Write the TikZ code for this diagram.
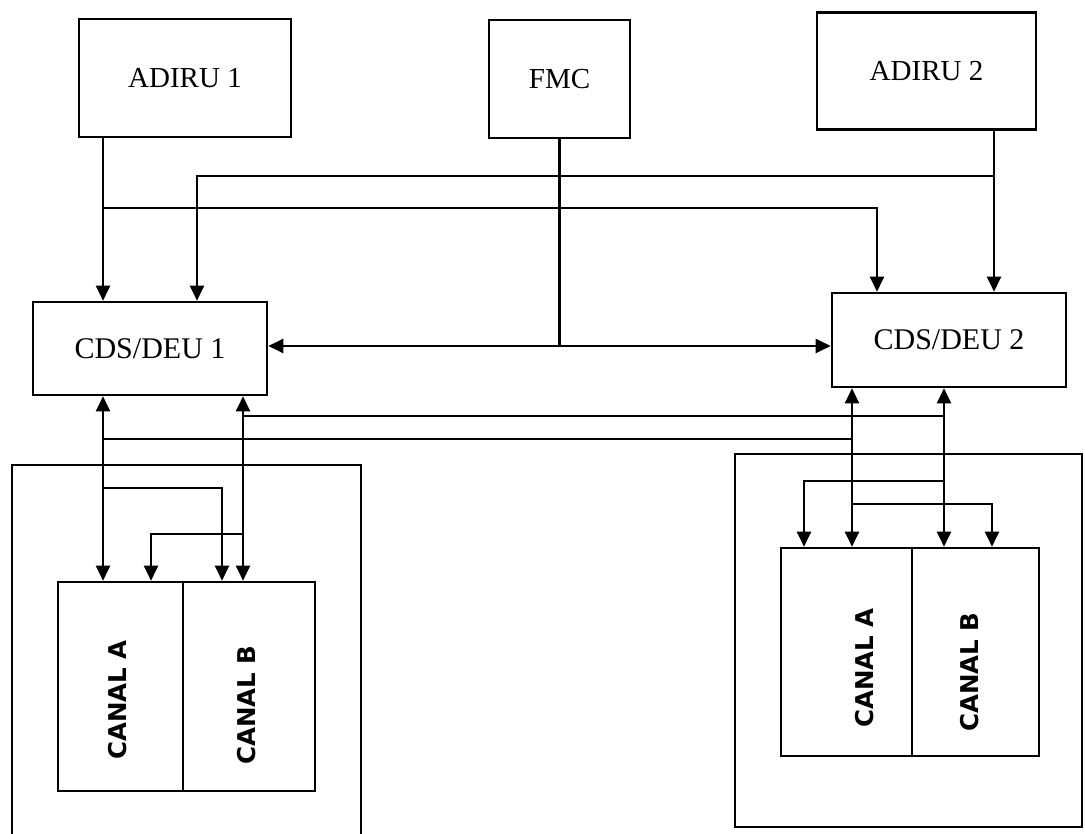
\documentclass[tikz,border=0pt]{standalone}
\usepackage{fontspec}
\setmainfont{Liberation Serif}
\newfontfamily\canalfont{DejaVu Sans}
\usetikzlibrary{arrows.meta, positioning, calc}
\tikzset{
	unitbox/.style={
			draw=black,
			line width=2.6pt,
			fill=white,
			inner sep=0pt,
			font=\fontsize{29}{29}\selectfont
		},
	cdsbox/.style={
			unitbox,
			minimum width=234pt,
			font=\fontsize{30}{30}\selectfont
		},
	canalbox/.style={
			draw=black,
			line width=2.6pt,
			inner sep=0pt,
			minimum height=209pt
		},
	canaltext/.style={
			rotate=90,
			inner sep=0pt,
			font=\canalfont\bfseries\fontsize{24.5}{24.5}\selectfont
		},
	panel/.style={
			draw=black,
			line width=2.6pt
		},
	wire/.style={
			line width=2.2pt
		},
	>={Triangle[length=15pt,width=14pt]}
}

\begin{document}
\begin{tikzpicture}[x=1pt, y=-1pt]
\useasboundingbox (0,0) rectangle (1085,834);

% sources
\node[unitbox, minimum width=212pt, minimum height=118pt] (adiru1) at (185,78) {ADIRU 1};
\node[unitbox, minimum width=141pt, minimum height=118pt] (fmc) at (559.5,79) {FMC};
\node[unitbox, minimum width=219pt, minimum height=117pt] (adiru2) at (926.5,71) {ADIRU 2};

% display units
\node[cdsbox, minimum height=93pt] (cds1) at (150,348.5) {CDS/DEU 1};
\node[cdsbox, minimum height=94pt] (cds2) at (949,340) {CDS/DEU 2};

% panels
\draw[panel] (12,834) -- (12,465) -- (361,465) -- (361,834);
\node[panel, inner sep=0pt, minimum width=347pt, minimum height=373pt] (p2) at (908.5,640.5) {};

% channels
\node[canalbox, minimum width=125pt] (ca1) at (120.5,686.5) {};
\node[canalbox, minimum width=132pt] (cb1) at (249,686.5) {};
\node[canalbox, minimum width=131pt, minimum height=208pt] (ca2) at (846.5,652) {};
\node[canalbox, minimum width=127pt, minimum height=208pt] (cb2) at (975.5,652) {};
\node[canaltext] (ta1) at (117.5,700) {CANAL A};
\node[canaltext] (tb1) at (247,705) {CANAL B};
\node[canaltext] (ta2) at (865,668) {CANAL A};
\node[canaltext] (tb2) at (970,672) {CANAL B};

% columns
\coordinate (la) at (103,0);
\coordinate (lb) at (243,0);
\coordinate (lc) at (197,0);
\coordinate (ra) at (852,0);
\coordinate (rb) at (944,0);
\coordinate (rc) at (877,0);
\coordinate (rd) at (994,0);

% ADIRU feeds
\draw[wire, ->] (adiru1.south -| la) -- (cds1.north -| la);
\draw[wire, ->] (adiru2.south -| rd) -- (cds2.north -| rd);
\coordinate (j1) at (103,208);
\coordinate (j2) at (994,176);
\draw[wire, ->] (j1) -| (cds2.north -| rc);
\draw[wire, ->] (j2) -| (cds1.north -| lc);

% FMC
\coordinate (fj) at (559.5,346);
\draw[wire] (fmc.south) -- (fj);
\draw[wire, <->] (cds1.east |- fj) -- (cds2.west |- fj);

% left side buses
\draw[wire, <->] (cds1.south -| la) -- (ca1.north -| la);
\draw[wire, <->] (cds1.south -| lb) -- (cb1.north -| lb);
\coordinate (jl1) at (103,439);
\coordinate (jl2) at (243,416);
\coordinate (jl3) at (103,488);
\coordinate (jl4) at (243,534);
\draw[wire, ->] (jl3) -| ($(cb1.north -| la)+(119,0)$);
\draw[wire, ->] (jl4) -| ($(ca1.north -| la)+(48,0)$);

% right side buses
\draw[wire, <->] (cds2.south -| ra) -- (ca2.north -| ra);
\draw[wire, <->] (cds2.south -| rb) -- (cb2.north -| rb);
\coordinate (jr1) at (944,481);
\coordinate (jr2) at (852,504);
\draw[wire, ->] (jr1) -| ($(ca2.north -| ra)+(-48,0)$);
\draw[wire, ->] (jr2) -| ($(cb2.north -| rb)+(48,0)$);

% cross links
\draw[wire] (jl1) -- (jl1 -| ra);
\draw[wire] (jl2) -- (jl2 -| rb);
\end{tikzpicture}
\end{document}
